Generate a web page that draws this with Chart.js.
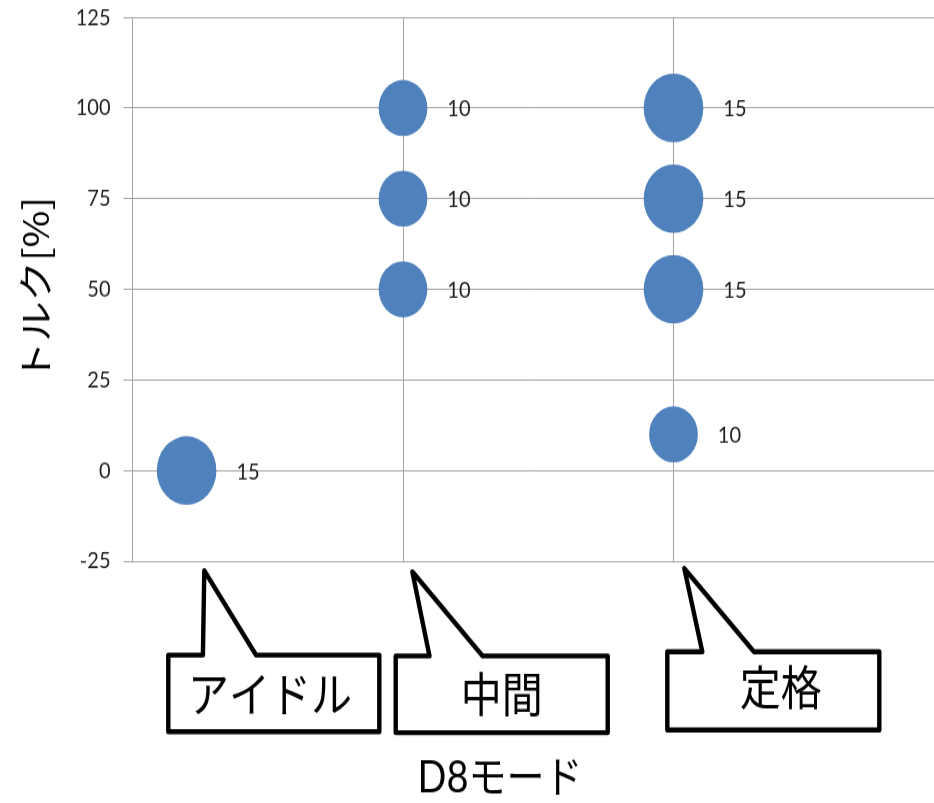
<!DOCTYPE html>
<html>
<head>
<meta charset="utf-8">
<script src="https://cdn.jsdelivr.net/npm/chart.js@4.4.1/dist/chart.umd.min.js"></script>
<style>
  html { overflow: hidden; }
  html, body { margin: 0; padding: 0; background: #fff; }
  #page { width: 934px; height: 803px; position: relative; }
  /* the sheet is stretched vertically, so round bubbles come out as ovals */
  #wrap { position: absolute; left: 0; top: 0; width: 934px; height: 698px; transform: scaleY(1.15); transform-origin: 0 0; }
</style>
</head>
<body>
<div id="page"><div id="wrap"><canvas id="c" width="934" height="698"></canvas></div></div>
<script>
// D8 test cycle: modes, torque points and weighting factors
const modeNames = ['アイドル', '中間', '定格'];
const modeX = [0.2, 1, 2];
const pointMode = [0, 1, 1, 1, 2, 2, 2, 2];
const torque = [0, 100, 75, 50, 100, 75, 50, 10];
const weight = [15, 10, 10, 10, 15, 15, 15, 10];
const yTicks = [-25, 0, 25, 50, 75, 100, 125];
const xTitle = 'D8モード';
const yTitle = 'トルク[%]';

const BUBBLE_K = 7.7;          // px of radius per sqrt(weight)
const GRID = '#A3A3A3';
const NUM_FONT = '20px Lato, "Noto Sans CJK JP", sans-serif';

// weight labels to the right of each bubble
const valueLabels = {
  id: 'valueLabels',
  afterDatasetsDraw(chart) {
    const ctx = chart.ctx;
    const meta = chart.getDatasetMeta(0);
    ctx.save();
    ctx.font = NUM_FONT;
    ctx.fillStyle = '#1f1f1f';
    ctx.textAlign = 'left';
    ctx.textBaseline = 'middle';
    meta.data.forEach((el, i) => {
      ctx.fillText(String(weight[i]), el.x + el.options.radius + 20, el.y + 1);
    });
    ctx.restore();
  }
};

// speech-balloon captions under each mode column, plus the x-axis title
const calloutShape = [
  { tip: [17.7, 8.3], base: [16.3, 69.4], box: [-18.3, 192.7], top: 81.6, bottom: 148.3, text: [-3.8, 0] },
  { tip: [9.3, 9.1],  base: [26.5, 79.7], box: [-7.3, 204.7],  top: 82.4, bottom: 149.1, text: [0, 0] },
  { tip: [10.8, 6.2], base: [28.8, 80.5], box: [-6.2, 205.8],  top: 78.7, bottom: 146.8, text: [7.5, -2.9] }
];
const callouts = {
  id: 'callouts',
  afterDraw(chart) {
    const ctx = chart.ctx;
    const xs = chart.scales.x;
    const y0 = chart.chartArea.bottom;
    ctx.save();
    ctx.lineWidth = 4.4;
    ctx.lineJoin = 'round';
    ctx.strokeStyle = '#000';
    modeNames.forEach((name, i) => {
      const s = calloutShape[i];
      const ax = xs.getPixelForValue(modeX[i]);
      const top = y0 + s.top, bot = y0 + s.bottom;
      const L = ax + s.box[0], R = ax + s.box[1];
      ctx.beginPath();
      ctx.moveTo(L, top);
      ctx.lineTo(ax + s.base[0], top);
      ctx.lineTo(ax + s.tip[0], y0 + s.tip[1]);
      ctx.lineTo(ax + s.base[1], top);
      ctx.lineTo(R, top);
      ctx.lineTo(R, bot);
      ctx.lineTo(L, bot);
      ctx.closePath();
      ctx.fillStyle = '#fff';
      ctx.fill();
      ctx.stroke();
      ctx.fillStyle = '#000';
      ctx.font = '41px "Noto Sans CJK JP", sans-serif';
      ctx.textAlign = 'center';
      ctx.textBaseline = 'middle';
      ctx.fillText(name, (L + R) / 2 + s.text[0], (top + bot) / 2 + s.text[1]);
    });
    // axis title below the captions
    ctx.font = '38px Lato, "Noto Sans CJK JP", sans-serif';
    ctx.textAlign = 'center';
    ctx.textBaseline = 'middle';
    ctx.fillText(xTitle, 500, chart.height - 21);
    ctx.restore();
  }
};

new Chart(document.getElementById('c'), {
  type: 'bubble',
  data: {
    datasets: [{
      data: torque.map((t, i) => ({
        x: modeX[pointMode[i]],
        y: t,
        r: Math.sqrt(weight[i]) * BUBBLE_K
      })),
      backgroundColor: '#4F81BD',
      borderWidth: 0,
      hoverBorderWidth: 0
    }]
  },
  options: {
    responsive: false,
    animation: false,
    events: [],
    layout: { autoPadding: false, padding: { top: 15.1, left: 0, right: 0, bottom: 0 } },
    plugins: { legend: { display: false }, tooltip: { enabled: false } },
    scales: {
      x: {
        type: 'linear',
        min: 0,
        max: 2.963,
        ticks: { display: false, stepSize: 1 },
        grid: { color: GRID, drawTicks: false, lineWidth: 1 },
        border: { color: GRID },
        afterBuildTicks(scale) {
          scale.ticks = scale.ticks.filter(t => Number.isInteger(t.value));
        },
        afterFit(scale) { scale.height = 210; }
      },
      y: {
        min: yTicks[0],
        max: yTicks[yTicks.length - 1],
        ticks: {
          stepSize: yTicks[1] - yTicks[0],
          color: '#1f1f1f',
          padding: 13,
          font: { family: 'Lato, "Noto Sans CJK JP", sans-serif', size: 20 }
        },
        grid: { color: GRID, tickLength: 9, lineWidth: 1 },
        border: { color: GRID },
        afterFit(scale) {
          scale.width = 132.5;
          scale.paddingTop = 0;
          scale.paddingBottom = 0;
        },
        title: {
          display: true,
          text: yTitle,
          color: '#000',
          font: { family: '"Noto Sans CJK JP", sans-serif', size: 35 },
          padding: { top: 15, bottom: 0 }
        }
      }
    }
  },
  plugins: [valueLabels, callouts]
});
</script>
</body>
</html>
